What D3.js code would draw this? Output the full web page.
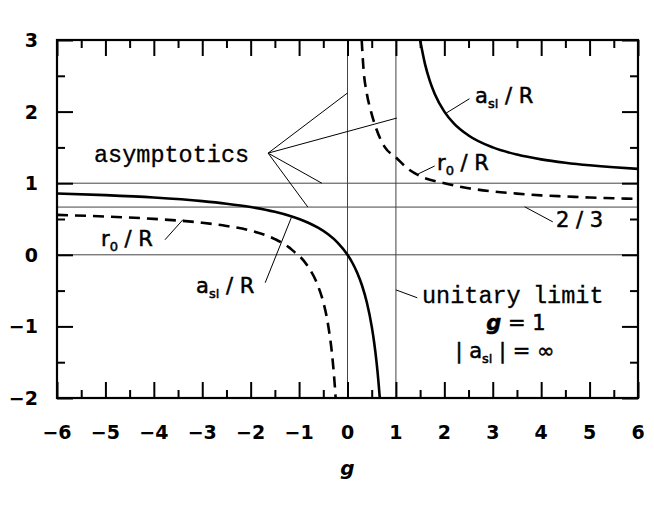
<!DOCTYPE html>
<html><head><meta charset="utf-8">
<script src="https://cdn.jsdelivr.net/npm/d3@7"></script>
<style>body{margin:0;background:#fff}svg{display:block}</style>
</head><body>
<script>
// ---- data ----
const xTicks = [-6,-5,-4,-3,-2,-1,0,1,2,3,4,5,6];
const yTicks = [-2,-1,0,1,2,3];
const aslLeftG  = [-6,-5,-4,-3,-2.5,-2,-1.5,-1.2,-1,-0.8,-0.6,-0.4,-0.2,0,0.1,0.2,0.3,0.4,0.5,0.55,0.6,0.64,0.667];
const aslLeftV  = [0.857,0.833,0.8,0.75,0.714,0.667,0.6,0.545,0.5,0.444,0.375,0.286,0.167,0,-0.111,-0.25,-0.429,-0.667,-1.0,-1.222,-1.5,-1.778,-2.0];
const aslRightG = [1.5,1.6,1.7,1.8,2,2.2,2.5,3,3.5,4,4.5,5,5.5,6];
const aslRightV = [3,2.667,2.429,2.25,2,1.833,1.667,1.5,1.4,1.333,1.286,1.25,1.222,1.2];
const r0LeftG   = [-6,-5,-4,-3,-2.5,-2,-1.5,-1.2,-1.08,-1,-0.8,-0.6,-0.5,-0.4,-0.3,-0.26,-0.24];
const r0LeftV   = [0.557,0.535,0.502,0.447,0.403,0.337,0.22,0.1,0.03,-0.013,-0.18,-0.45,-0.66,-0.98,-1.52,-1.85,-2.05];
const r0RightG  = [0.293,0.33,0.4,0.486,0.6,0.775,1,1.25,1.5,2,2.5,3,3.5,4,4.5,5,5.5,6];
const r0RightV  = [3.0,2.6,2.25,2.0,1.75,1.5,1.36,1.2,1.1,1.0,0.93,0.885,0.855,0.83,0.815,0.8,0.79,0.78];
const hLines = [1, 2/3, 0];
const vLines = [0, 1];

const W = 654, H = 505;
const m = {l:57, r:16, t:40, b:107};
const x = d3.scaleLinear().domain([-6,6]).range([m.l, W-m.r]);
const y = d3.scaleLinear().domain([-2,3]).range([H-m.b, m.t]);

const svg = d3.select("body").append("svg").attr("width",W).attr("height",H);
svg.append("defs").append("clipPath").attr("id","clip")
  .append("rect").attr("x",m.l).attr("y",m.t).attr("width",x(6)-x(-6)).attr("height",y(-2)-y(3));

const thin = {stroke:"#444", w:1};
hLines.forEach(v=>svg.append("line").attr("x1",x(-6)).attr("x2",x(6)).attr("y1",y(v)).attr("y2",y(v))
  .attr("stroke",thin.stroke).attr("stroke-width",thin.w));
vLines.forEach(v=>svg.append("line").attr("x1",x(v)).attr("x2",x(v)).attr("y1",y(-2)).attr("y2",y(3))
  .attr("stroke",thin.stroke).attr("stroke-width",thin.w));

// curves
const line = d3.line().x(d=>x(d[0])).y(d=>y(d[1])).curve(d3.curveMonotoneX);
const zip = (a,b)=>a.map((v,i)=>[v,b[i]]);
const g = svg.append("g").attr("clip-path","url(#clip)");
[[aslLeftG,aslLeftV],[aslRightG,aslRightV]].forEach(([gx,gv])=>
  g.append("path").attr("d",line(zip(gx,gv))).attr("fill","none").attr("stroke","#000").attr("stroke-width",2.6));
[[r0LeftG,r0LeftV],[r0RightG,r0RightV]].forEach(([gx,gv])=>
  g.append("path").attr("d",line(zip(gx,gv))).attr("fill","none").attr("stroke","#000").attr("stroke-width",2.6)
   .attr("stroke-dasharray","11,7"));

// axes with inward ticks on all sides
const frame = svg.append("g");
function ticks(axisFn, scale, vals, len, tr){
  const a = axisFn(scale).tickValues(vals).tickSize(len).tickFormat("");
  const gg = frame.append("g").attr("transform",tr).call(a);
  gg.select(".domain").remove();
  gg.selectAll("line").attr("stroke","#000").attr("stroke-width",2);
}
const minorX = d3.range(-5.5,6,1);
const minorY = d3.range(-1.5,3,1);
ticks(d3.axisTop, x, xTicks, 16, `translate(0,${y(-2)})`);
ticks(d3.axisTop, x, minorX, 8, `translate(0,${y(-2)})`);
ticks(d3.axisBottom, x, xTicks, 16, `translate(0,${y(3)})`);
ticks(d3.axisBottom, x, minorX, 8, `translate(0,${y(3)})`);
ticks(d3.axisRight, y, yTicks, 16, `translate(${x(-6)},0)`);
ticks(d3.axisRight, y, minorY, 8, `translate(${x(-6)},0)`);
ticks(d3.axisLeft, y, yTicks, 16, `translate(${x(6)},0)`);
ticks(d3.axisLeft, y, minorY, 8, `translate(${x(6)},0)`);
frame.append("rect").attr("x",x(-6)).attr("y",y(3)).attr("width",x(6)-x(-6)).attr("height",y(-2)-y(3))
  .attr("fill","none").attr("stroke","#000").attr("stroke-width",2.2);

// tick labels
const fmt = v => v<0 ? "\u2212"+Math.abs(v) : ""+v;
const tf = "'DejaVu Sans', sans-serif";
svg.append("g").selectAll("text").data(xTicks).join("text")
  .attr("x",d=>x(d)).attr("y",y(-2)+41).attr("text-anchor","middle")
  .attr("font-family",tf).attr("font-weight","bold").attr("font-size",19).text(fmt);
svg.append("g").selectAll("text").data(yTicks).join("text")
  .attr("x",x(-6)-19).attr("y",d=>y(d)+7).attr("text-anchor","end")
  .attr("font-family",tf).attr("font-weight","bold").attr("font-size",19).text(fmt);
svg.append("text").attr("x",x(0)).attr("y",y(-2)+77).attr("text-anchor","middle")
  .attr("font-family",tf).attr("font-style","italic").attr("font-weight","bold").attr("font-size",20).text("g");

// annotations
const ann = svg.append("g");
const mono = "'Liberation Mono', 'DejaVu Sans Mono', monospace";
function seg(g1,v1,g2,v2){ ann.append("line").attr("x1",x(g1)).attr("y1",y(v1)).attr("x2",x(g2)).attr("y2",y(v2))
  .attr("stroke","#000").attr("stroke-width",1); }
function lbl(px,py,parts,size,family,anchor){
  const t = ann.append("text").attr("x",px).attr("y",py).attr("font-family",family||tf).attr("font-size",size)
    .attr("text-anchor",anchor||"start").attr("stroke","#000").attr("stroke-width",0.5);
  parts.forEach(p=>{
    const s = t.append("tspan").text(p.t);
    if(p.sub) s.attr("font-size",size*0.62).attr("dy",5);
    if(p.up) s.attr("dy",-5);
    if(p.it) s.attr("font-style","italic");
    if(p.w) s.attr("font-weight",p.w);
  });
  return t;
}
function monoText(px,py,s){
  ann.append("text").attr("x",px).attr("y",py).attr("font-family",mono).attr("font-size",23.5)
    .attr("stroke","#000").attr("stroke-width",0.3).text(s);
}
// asymptotics
monoText(94,162,"asymptotics");
const o = [-1.64,1.42];
seg(o[0],o[1],0,2.26); seg(o[0],o[1],1.02,1.91); seg(o[0],o[1],-0.53,1.0); seg(o[0],o[1],-0.82,0.667);
// a_sl/R upper
lbl(475,103,[{t:"a"},{t:"sl",sub:true},{t:" / R",up:true}],21);
seg(2.04,1.98,2.52,2.18);
// r0/R upper
lbl(437,170,[{t:"r"},{t:"0",sub:true},{t:" / R",up:true}],21);
seg(1.8,1.24,1.46,1.13);
// r0/R lower
lbl(101,246,[{t:"r"},{t:"0",sub:true},{t:" / R",up:true}],21);
seg(-3.77,0.21,-3.4,0.49);
// a_sl/R lower
lbl(196,293,[{t:"a"},{t:"sl",sub:true},{t:" / R",up:true}],21);
seg(-1.7,-0.39,-1.16,0.52);
// 2/3
lbl(556,227,[{t:"2 / 3"}],21);
seg(3.66,0.67,4.24,0.46);
// unitary limit
monoText(422,303,"unitary");
monoText(533,303,"limit");
seg(1.0,-0.49,1.44,-0.6);
lbl(516,330,[{t:"g",it:true,w:"bold"},{t:" = 1"}],21,tf,"middle");
lbl(505,358,[{t:"| a"},{t:"sl",sub:true},{t:" | = \u221e",up:true}],21,tf,"middle");
</script>
</body></html>
